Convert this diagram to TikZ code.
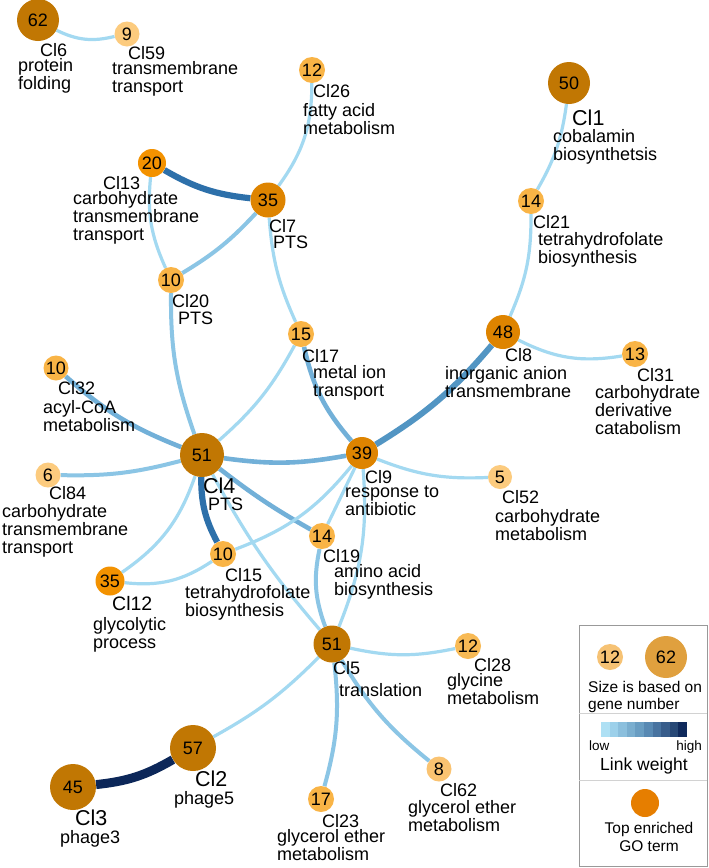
\documentclass[tikz,border=0pt]{standalone}
\usepackage{fontspec}
\setmainfont{Liberation Sans}
\usetikzlibrary{backgrounds}
\definecolor{cbrown}{HTML}{C17703}
\definecolor{cdark}{HTML}{DE8400}
\definecolor{corange}{HTML}{F39200}
\definecolor{clight}{HTML}{F9B446}
\definecolor{clight2}{HTML}{F8BA55}
\definecolor{cpale}{HTML}{FCCB7E}
\definecolor{cpale2}{HTML}{FAC371}
\definecolor{lgsmall}{HTML}{F6C274}
\definecolor{lgbig}{HTML}{E0A03E}
\definecolor{lgorange}{HTML}{E67E00}
\definecolor{cev}{HTML}{A3D9F1}
\definecolor{cel}{HTML}{8BC5E5}
\definecolor{cem}{HTML}{72B0D8}
\definecolor{cemd}{HTML}{5295C3}
\definecolor{ced}{HTML}{2D70AA}
\definecolor{cen}{HTML}{0C2759}
\definecolor{cb1}{HTML}{AEE0F4}
\definecolor{cb2}{HTML}{9CD0EA}
\definecolor{cb3}{HTML}{8BBFDD}
\definecolor{cb4}{HTML}{7AAECF}
\definecolor{cb5}{HTML}{699DC2}
\definecolor{cb6}{HTML}{5889B3}
\definecolor{cb7}{HTML}{4873A0}
\definecolor{cb8}{HTML}{385D8B}
\definecolor{cb9}{HTML}{274876}
\definecolor{cb10}{HTML}{0F2A5C}
\newcommand\ml[1]{\begin{tabular}[t]{@{}l@{}}#1\end{tabular}}
\tikzset{
  nd/.style={circle, inner sep=0pt, font=\fontsize{18}{18}\selectfont},
  idl/.style={anchor=base west, inner sep=0pt, font=\fontsize{18}{18}\selectfont},
  idM/.style={idl, font=\fontsize{19.5}{20}\selectfont},
  idL/.style={idl, font=\fontsize{21.5}{22}\selectfont},
  dsc/.style={anchor=base west, inner sep=0pt, font=\fontsize{18}{18}\selectfont},
  lgt/.style={inner sep=0pt, font=\fontsize{15.5}{16}\selectfont},
  ev/.style={draw=cev, line width=3.2pt},
  el/.style={draw=cel, line width=4pt},
  em/.style={draw=cem, line width=4.6pt},
  emd/.style={draw=cemd, line width=6pt},
  ed/.style={draw=ced, line width=6.2pt},
  en/.style={draw=cen, line width=9pt},
  sep/.style={draw=gray!35, line width=1pt}
}
\begin{document}
\begin{tikzpicture}[x=1pt,y=-1pt]
\useasboundingbox (0,0) rectangle (709,868);
% nodes
\node[nd,minimum size=42pt,fill=cbrown] (n6) at (38,20) {62};
\node[nd,minimum size=25pt,fill=cpale] (n59) at (127,34) {9};
\node[nd,minimum size=26pt,fill=clight] (n26) at (312,70) {12};
\node[nd,minimum size=42pt,fill=cbrown] (n1) at (569,83) {50};
\node[nd,minimum size=28pt,fill=corange] (n13) at (152,163) {20};
\node[nd,minimum size=35pt,fill=cdark] (n7) at (268,200) {35};
\node[nd,minimum size=26pt,fill=clight] (n21) at (531,201) {14};
\node[nd,minimum size=26pt,fill=clight] (n20) at (171,280) {10};
\node[nd,minimum size=26pt,fill=clight] (n17) at (301,334) {15};
\node[nd,minimum size=34pt,fill=cdark] (n8) at (503,332) {48};
\node[nd,minimum size=26pt,fill=clight] (n31) at (635,354) {13};
\node[nd,minimum size=25pt,fill=clight] (n32) at (56,368) {10};
\node[nd,minimum size=44pt,fill=cbrown] (n4) at (202,455) {51};
\node[nd,minimum size=32pt,fill=cdark] (n9) at (362,453) {39};
\node[nd,minimum size=25pt,fill=cpale] (n84) at (48,475) {6};
\node[nd,minimum size=24pt,fill=cpale] (n52) at (500,477) {5};
\node[nd,minimum size=26pt,fill=clight] (n19) at (322,536) {14};
\node[nd,minimum size=26pt,fill=clight] (n15) at (223,554) {10};
\node[nd,minimum size=29pt,fill=corange] (n12) at (110,581) {35};
\node[nd,minimum size=37pt,fill=cbrown] (n5) at (332,644) {51};
\node[nd,minimum size=26pt,fill=clight2] (n28) at (468,646) {12};
\node[nd,minimum size=46pt,fill=cbrown] (n2) at (193,748) {57};
\node[nd,minimum size=46pt,fill=cbrown] (n3) at (73,787) {45};
\node[nd,minimum size=25pt,fill=cpale2] (n62) at (439,769) {8};
\node[nd,minimum size=26pt,fill=clight] (n23) at (321,799) {17};
% labels
\node[idl] (t6) at (40,56) {Cl6};
\node[dsc] (s6) at (18,71) {\ml{protein\\folding}};
\node[idl] (t59) at (128,59) {Cl59};
\node[dsc] (s59) at (112,74) {\ml{transmembrane\\transport}};
\node[idl] (t26) at (313,97) {Cl26};
\node[dsc] (s26) at (303,116) {\ml{fatty acid\\metabolism}};
\node[idL] (t1) at (572,125) {Cl1};
\node[dsc] (s1) at (553,142) {\ml{cobalamin\\biosynthetsis}};
\node[idl] (t13) at (103,189) {Cl13};
\node[dsc] (s13) at (73,204) {\ml{carbohydrate\\transmembrane\\transport}};
\node[idl] (t7) at (269,232) {Cl7};
\node[dsc] (s7) at (273,248) {PTS};
\node[idl] (t21) at (533,228) {Cl21};
\node[dsc] (s21) at (538,245) {\ml{tetrahydrofolate\\biosynthesis}};
\node[idl] (t20) at (172,307) {Cl20};
\node[dsc] (s20) at (178,324) {PTS};
\node[idl] (t17) at (302,362) {Cl17};
\node[dsc] (s17) at (313,378) {\ml{metal ion\\transport}};
\node[idl] (t8) at (505,361) {Cl8};
\node[dsc] (s8) at (445,379) {\ml{inorganic anion\\transmembrane}};
\node[idl] (t31) at (637,381) {Cl31};
\node[dsc] (s31) at (595,398) {\ml{carbohydrate\\derivative\\catabolism}};
\node[idl] (t32) at (58,394) {Cl32};
\node[dsc] (s32) at (43,413) {\ml{acyl-CoA\\metabolism}};
\node[idL] (t4) at (203,493) {Cl4};
\node[dsc] (s4) at (208,510) {PTS};
\node[idl] (t9) at (365,483) {Cl9};
\node[dsc] (s9) at (345,497) {\ml{response to\\antibiotic}};
\node[idl] (t84) at (49,499) {Cl84};
\node[dsc] (s84) at (2,517) {\ml{carbohydrate\\transmembrane\\transport}};
\node[idl] (t52) at (502,503) {Cl52};
\node[dsc] (s52) at (495,522) {\ml{carbohydrate\\metabolism}};
\node[idl] (t19) at (323,562) {Cl19};
\node[dsc] (s19) at (334,577) {\ml{amino acid\\biosynthesis}};
\node[idl] (t15) at (225,581) {Cl15};
\node[dsc] (s15) at (185,598) {\ml{tetrahydrofolate\\biosynthesis}};
\node[idM] (t12) at (112,610) {Cl12};
\node[dsc] (s12) at (93,630) {\ml{glycolytic\\process}};
\node[idl] (t5) at (333,674) {Cl5};
\node[dsc] (s5) at (339,696) {translation};
\node[idl] (t28) at (474,671) {Cl28};
\node[dsc] (s28) at (447,686) {\ml{glycine\\metabolism}};
\node[idL] (t2) at (195,786) {Cl2};
\node[dsc] (s2) at (174,804) {phage5};
\node[idL] (t3) at (75,825) {Cl3};
\node[dsc] (s3) at (60,843) {phage3};
\node[idl] (t62) at (440,796) {Cl62};
\node[dsc] (s62) at (408,813) {\ml{glycerol ether\\metabolism}};
\node[idl] (t23) at (322,827) {Cl23};
\node[dsc] (s23) at (277,842) {\ml{glycerol ether\\metabolism}};
% edges
\begin{pgfonlayer}{background}
\fill[white] (0,0) rectangle (709,868);
\draw[ev] (n6) to[bend right=20] (n59);
\draw[ev] (n7) to[bend right=18] (n26);
\draw[ed] (n13) to[bend right=12] (n7);
\draw[ev] (n13) to[bend right=15] (n20);
\draw[el] (n7) to[bend left=8] (n20);
\draw[ev] (n7) to[bend right=10] (n17);
\draw[ev] (n1) to[bend left=11] (n21);
\draw[ev] (n21) to[bend left=12] (n8);
\draw[ev] (n8) to[bend right=18] (n31);
\draw[emd] (n8) to[bend left=9] (n9);
\draw[el] (n20) to[bend right=10] (n4);
\draw[em] (n32) to[bend right=10] (n4);
\draw[el] (n84) to[bend right=8] (n4);
\draw[ev] (n17) to[bend left=10] (n4);
\draw[em] (n17) to[bend right=14] (n9);
\draw[em] (n4) to[bend right=9] (n9);
\draw[ed] (n4) to[bend right=14] (n15);
\draw[em] (n4) to[bend right=4] (n19);
\draw[ev] (n4) to[bend right=6] (n5);
\draw[ev] (n4) to[bend left=18] (n12);
\draw[ev] (n12) to[bend right=20] (n15);
\draw[ev] (n15) to[bend right=15] (n9);
\draw[ev] (n19) -- (n9);
\draw[ev] (n9) to[bend left=13] (n5);
\draw[el] (n19) to[bend right=16] (n5);
\draw[ev] (n9) to[bend right=12] (n52);
\draw[ev] (n5) to[bend right=12] (n28);
\draw[el] (n5) to[bend right=10] (n62);
\draw[el] (n5) to[bend left=11] (n23);
\draw[ev] (n5) to[bend left=8] (n2);
\draw[en] (n2) to[bend left=12] (n3);
\end{pgfonlayer}
% legend
\draw[draw=gray!80, line width=1pt] (579,625) rectangle (707,866);
\node[nd,minimum size=26pt,fill=lgsmall] (lg12) at (610,657) {12};
\node[nd,minimum size=42pt,fill=lgbig] (lg62) at (666,657) {62};
\node[lgt,anchor=base west] (lgs1) at (588,692) {Size is based on};
\node[lgt,anchor=base west] (lgs2) at (588,709) {gene number};
\draw[sep] (579,713) -- (707,713);
\foreach \i/\c in {0/cb1,1/cb2,2/cb3,3/cb4,4/cb5,5/cb6,6/cb7,7/cb8,8/cb9,9/cb10}
  \fill[\c] (601+\i*8.6,722) rectangle (601+\i*8.6+8.7,737);
\node[inner sep=0pt,anchor=base west,font=\fontsize{13.5}{14}\selectfont] (lglow) at (589,750) {low};
\node[inner sep=0pt,anchor=base east,font=\fontsize{13.5}{14}\selectfont] (lghigh) at (702,750) {high};
\node[inner sep=0pt,anchor=base,font=\fontsize{17.5}{18}\selectfont] (lgw) at (644,770) {Link weight};
\draw[sep] (579,780) -- (707,780);
\node[nd,minimum size=28pt,fill=lgorange] (lgo) at (645,803) {};
\node[lgt,anchor=base] (lgt1) at (649,833) {Top enriched};
\node[lgt,anchor=base] (lgt2) at (649,851) {GO term};
\end{tikzpicture}
\end{document}
